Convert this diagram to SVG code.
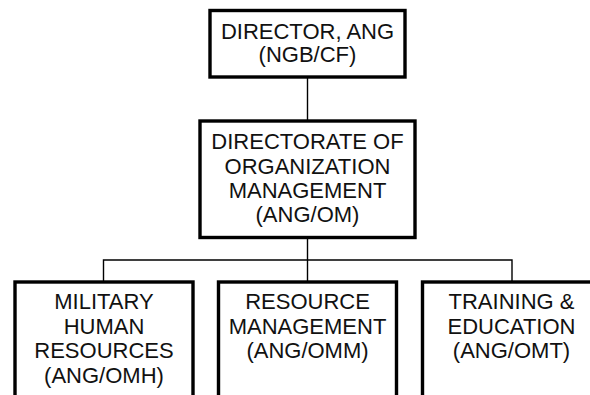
<svg xmlns="http://www.w3.org/2000/svg" width="590" height="395" viewBox="0 0 590 395">
  <style>
    .box { fill: #ffffff; stroke: #000000; stroke-width: 3.4; }
    .lbl { font-family: "Liberation Sans", Arial, sans-serif; font-size: 22px; fill: #111111; text-anchor: middle; }
    .wire { fill: none; stroke: #000000; stroke-width: 1.4; }
  </style>
  <rect width="590" height="395" fill="#ffffff"/>

  <g id="connectors">
    <line class="wire" x1="307.5" y1="77" x2="307.5" y2="121"/>
    <line class="wire" x1="307.5" y1="237.5" x2="307.5" y2="260"/>
    <polyline class="wire" points="103.5,282 103.5,260 512,260 512,282"/>
    <line class="wire" x1="307.5" y1="260" x2="307.5" y2="282"/>
  </g>

  <g id="director">
    <rect class="box" x="210" y="10.5" width="195" height="66.5"/>
    <text class="lbl" x="307.5" y="38.5">DIRECTOR, ANG</text>
    <text class="lbl" x="307.5" y="62">(NGB/CF)</text>
  </g>

  <g id="org-management">
    <rect class="box" x="200" y="121" width="215" height="116.5"/>
    <text class="lbl" x="307.5" y="149">DIRECTORATE OF</text>
    <text class="lbl" x="307.5" y="173.5">ORGANIZATION</text>
    <text class="lbl" x="307.5" y="198">MANAGEMENT</text>
    <text class="lbl" x="307.5" y="222">(ANG/OM)</text>
  </g>

  <g id="military-hr">
    <rect class="box" x="15" y="282" width="178" height="130"/>
    <text class="lbl" x="104" y="309">MILITARY</text>
    <text class="lbl" x="104" y="333.5">HUMAN</text>
    <text class="lbl" x="104" y="358">RESOURCES</text>
    <text class="lbl" x="104" y="382.5">(ANG/OMH)</text>
  </g>

  <g id="resource-management">
    <rect class="box" x="218.5" y="282" width="178" height="130"/>
    <text class="lbl" x="307.5" y="309">RESOURCE</text>
    <text class="lbl" x="307.5" y="333.5">MANAGEMENT</text>
    <text class="lbl" x="307.5" y="358">(ANG/OMM)</text>
  </g>

  <g id="training-education">
    <rect class="box" x="422.5" y="282" width="178" height="130"/>
    <text class="lbl" x="511.5" y="309">TRAINING &amp;</text>
    <text class="lbl" x="511.5" y="333.5">EDUCATION</text>
    <text class="lbl" x="511.5" y="358">(ANG/OMT)</text>
  </g>
</svg>
